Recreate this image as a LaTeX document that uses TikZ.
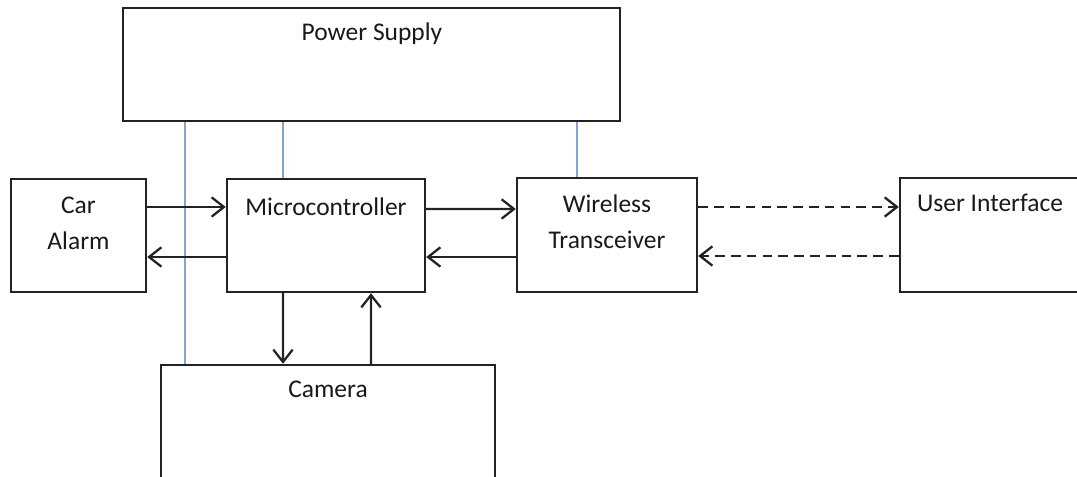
\documentclass[tikz,border=0pt]{standalone}
\usepackage{fontspec}
\setmainfont{Carlito}
\usepackage{tikz}
\usetikzlibrary{arrows.meta}
\definecolor{power_line}{RGB}{130, 164, 210}
\definecolor{box_line}{RGB}{35, 35, 35}

\begin{document}
\begin{tikzpicture}[scale=1,
  blk/.style={draw=box_line, line width=1.4pt, minimum width=#1, inner sep=0pt},
  blk/.default=3.6cm,
  lbl/.style={font=\fontsize{14.5}{20.5}\selectfont, align=center, text=black!90},
  arr/.style={line width=1.3pt, box_line, -{Straight Barb[length=7pt,width=11pt,line width=1.3pt]}},
  wire/.style={line width=1.2pt, power_line}]
\useasboundingbox (0,0) rectangle (21.54,9.52);

\node[blk=9.94cm, minimum height=2.26cm] (ps) at (7.43,8.23) {};
\node[blk=2.70cm, minimum height=2.26cm] (car) at (1.57,4.81) {};
\node[blk=3.96cm, minimum height=2.26cm] (mcu) at (6.52,4.81) {};
\node[blk=3.60cm, minimum height=2.28cm] (wt) at (12.14,4.82) {};
\node[blk=3.60cm, minimum height=2.28cm] (ui) at (19.80,4.82) {};
\node[blk=6.68cm, minimum height=2.26cm] (cam) at (6.56,1.09) {};

\node[lbl] (ps-t) at (7.44,8.84) {Power Supply};
\node[lbl] (car-t) at (1.57,5.06) {Car\\Alarm};
\node[lbl] (mcu-t) at (6.52,5.38) {Microcontroller};
\node[lbl] (wt-t) at (12.14,5.09) {Wireless\\Transceiver};
\node[lbl] (ui-t) at (19.80,5.46) {User Interface};
\node[lbl] (cam-t) at (6.56,1.74) {Camera};

% power lines
\draw[wire] (ps.south -| 3.70,0) -- (cam.north -| 3.70,0);
\draw[wire] (ps.south -| 5.66,0) -- (mcu.north -| 5.66,0);
\draw[wire] (ps.south -| 11.54,0) -- (wt.north -| 11.54,0);

\draw[arr] ([yshift=0.57cm]car.east) -- ([yshift=0.57cm]mcu.west);
\draw[arr] ([yshift=-0.43cm]mcu.west) -- ([yshift=-0.43cm]car.east);
\draw[arr] ([yshift=0.53cm]mcu.east) -- ([yshift=0.52cm]wt.west);
\draw[arr] ([yshift=-0.44cm]wt.west) -- ([yshift=-0.43cm]mcu.east);
\draw[arr, dash pattern=on 5.5pt off 3.5pt] ([yshift=0.56cm]wt.east) -- ([yshift=0.56cm]ui.west);
\draw[arr, dash pattern=on 5.5pt off 3.5pt] ([yshift=-0.42cm]ui.west) -- ([yshift=-0.42cm]wt.east);
\draw[arr] ([xshift=-0.86cm]mcu.south) -- ([xshift=-0.90cm]cam.north);
\draw[arr] ([xshift=0.86cm]cam.north) -- ([xshift=0.90cm]mcu.south);

\end{tikzpicture}
\end{document}
